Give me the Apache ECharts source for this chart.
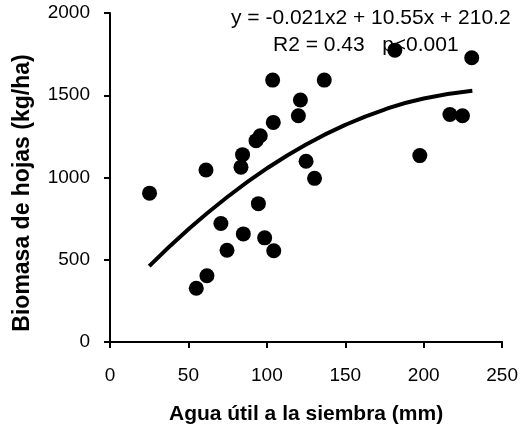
<!DOCTYPE html>
<html>
<head>
<meta charset="utf-8">
<script src="https://cdn.jsdelivr.net/npm/echarts@6/dist/echarts.min.js"></script>
<style>html,body{margin:0;padding:0;background:#fff}#c{width:521px;height:430px}</style>
</head>
<body>
<div id="c"></div>
<script>
// Observed points: Agua útil a la siembra (mm) vs Biomasa de hojas (kg/ha)
const aguaX = [25.2, 55.0, 61.2, 61.8, 70.7, 74.6, 83.5, 84.5, 85.0, 93.1, 94.6, 95.8, 98.6, 103.7, 104.1, 104.4, 120.1, 121.4, 125.0, 130.4, 136.6, 181.6, 197.5, 216.7, 224.7, 230.6];
const biomasaY = [905, 327, 1046, 403, 720, 558, 1063, 1139, 657, 1224, 841, 1254, 633, 1592, 1335, 555, 1375, 1471, 1099, 995, 1592, 1774, 1133, 1383, 1375, 1728];
// Fitted curve
const curveX = [25, 50, 75, 100, 125, 150, 175, 200, 231];
const curveY = [461, 685, 883, 1055, 1201, 1320, 1413, 1480, 1527];
// Axis ticks
const xTicks = [0, 50, 100, 150, 200, 250];
const yTicks = [0, 500, 1000, 1500, 2000];
const eqLine = 'y = -0.021x2 + 10.55x + 210.2';
const statLine = 'R2 = 0.43   p<0.001';
const xTitle = 'Agua útil a la siembra (mm)';
const yTitle = 'Biomasa de hojas (kg/ha)';

const FONT = 'Liberation Sans, Arial, sans-serif';
const chart = echarts.init(document.getElementById('c'), null, {renderer: 'canvas'});
const axisCommon = {
  axisLine: {show: true, onZero: false, lineStyle: {color: '#000', width: 2}},
  axisTick: {show: true, inside: false, length: 6, lineStyle: {color: '#000', width: 2}},
  splitLine: {show: false}
};
chart.setOption({
  animation: false,
  backgroundColor: '#fff',
  grid: {left: 110, right: 18, top: 13, bottom: 86, containLabel: false},
  xAxis: Object.assign({}, axisCommon, {
    type: 'value', min: xTicks[0], max: xTicks[xTicks.length - 1], interval: xTicks[1] - xTicks[0],
    name: xTitle, nameLocation: 'middle', nameGap: 62,
    nameTextStyle: {color: '#000', fontFamily: FONT, fontWeight: 'bold', fontSize: 21},
    axisLabel: {color: '#000', fontFamily: FONT, fontSize: 19, margin: 24, formatter: v => String(v)}
  }),
  yAxis: Object.assign({}, axisCommon, {
    type: 'value', min: yTicks[0], max: yTicks[yTicks.length - 1], interval: yTicks[1] - yTicks[0],
    axisLabel: {color: '#000', fontFamily: FONT, fontSize: 19, margin: 20, formatter: v => String(v)}
  }),
  series: [
    {
      type: 'line', data: curveX.map((x, i) => [x, curveY[i]]), smooth: true,
      showSymbol: false, symbol: 'none',
      lineStyle: {color: '#000', width: 4}, z: 2
    },
    {
      type: 'scatter', data: aguaX.map((x, i) => [x, biomasaY[i]]),
      symbol: 'circle', symbolSize: 15, itemStyle: {color: '#000', opacity: 1}, z: 3
    }
  ],
  graphic: [
    {type: 'text', x: 23, y: 193, rotation: Math.PI / 2, z: 10,
     style: {text: yTitle, fill: '#000', font: 'bold 23px ' + FONT, align: 'center', verticalAlign: 'middle'}},
    {type: 'text', left: 231, top: 8, z: 10, style: {text: eqLine, fill: '#000', font: '21px ' + FONT}},
    {type: 'text', left: 273, top: 35, z: 10, style: {text: statLine, fill: '#000', font: '21px ' + FONT}}
  ]
});
</script>
</body>
</html>
